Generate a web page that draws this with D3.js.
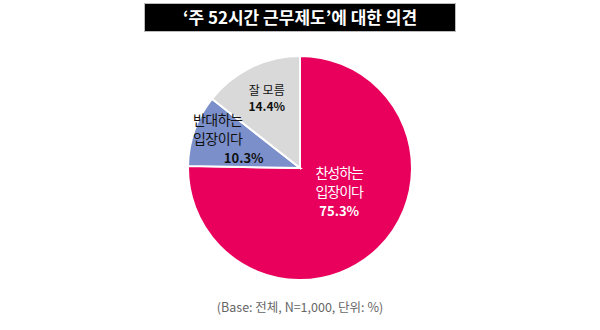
<!DOCTYPE html>
<html>
<head>
<meta charset="utf-8">
<script src="https://cdn.jsdelivr.net/npm/d3@7"></script>
<style>
  body { margin: 0; background: #fff; }
  text { font-family: "Noto Sans CJK KR", "Noto Sans", sans-serif; }
</style>
</head>
<body>
<div id="chart"></div>
<script>
var labels = [["찬성하는", "입장이다"], ["반대하는", "입장이다"], ["잘 모름"]];
var values = [75.3, 10.3, 14.4];
var colors = ["#E8005C", "#7B8FCB", "#D9D9D9"];
var textColors = ["#ffffff", "#111111", "#111111"];

var width = 600, height = 330;
var cx = 300, cy = 168, radius = 112;

var svg = d3.select("#chart")
  .append("svg")
  .attr("width", width)
  .attr("height", height)
  .style("background", "#fff");

// title box
svg.append("rect")
  .attr("x", 144.5)
  .attr("y", 3.5)
  .attr("width", 311)
  .attr("height", 28)
  .style("fill", "#000")
  .style("stroke", "#bbb")
  .style("stroke-width", 1);

svg.append("text")
  .attr("x", 300)
  .attr("y", 23.5)
  .attr("text-anchor", "middle")
  .style("fill", "#fff")
  .style("font-size", "17px")
  .style("font-weight", "bold")
  .text("‘주 52시간 근무제도’에 대한 의견");

var data = values.map(function(v, i) {
  return { label: labels[i], value: v, color: colors[i], tc: textColors[i] };
});

var pie = d3.pie()
  .value(function(d) { return d.value; })
  .sort(null);

var arc = d3.arc().innerRadius(0).outerRadius(radius);

var g = svg.append("g")
  .attr("transform", "translate(" + cx + "," + cy + ")");

var arcs = pie(data);

g.selectAll("path")
  .data(arcs)
  .enter()
  .append("path")
  .attr("d", arc)
  .style("fill", function(d) { return d.data.color; })
  .style("stroke", "#fff")
  .style("stroke-width", 2);

// label layout per slice
var labelR = [0.5, 0.78, 0.72];
var labelShift = [[0, -16], [0, 0], [2, 3]];
var lineGap = [19, 19, 16];
var nameSize = [14, 14, 12];
var pctSize = [13, 13, 12];
var pctDx = [0, 26, 0];
var nameSpacing = [-1, -0.5, 0];

arcs.forEach(function(d, i) {
  var a = (d.startAngle + d.endAngle) / 2;
  var r = radius * labelR[i];
  var x = Math.sin(a) * r + labelShift[i][0];
  var y = -Math.cos(a) * r + labelShift[i][1];
  var lines = d.data.label.concat([d3.format(".1f")(d.data.value) + "%"]);
  var t = g.append("text")
    .attr("text-anchor", "middle")
    .style("fill", d.data.tc);
  lines.forEach(function(l, j) {
    var last = j === lines.length - 1;
    t.append("tspan")
      .attr("x", x + (last ? pctDx[i] : 0))
      .attr("y", y + (j - (lines.length - 1) / 2) * lineGap[i] + 5)
      .style("font-weight", last ? "bold" : "normal")
      .style("font-size", (last ? pctSize[i] : nameSize[i]) + "px")
      .style("letter-spacing", (last ? 0 : nameSpacing[i]) + "px")
      .text(l);
  });
});

svg.append("text")
  .attr("x", 300)
  .attr("y", 312)
  .attr("text-anchor", "middle")
  .style("fill", "#666")
  .style("font-size", "12.5px")
  .text("(Base: 전체, N=1,000, 단위: %)");
</script>
</body>
</html>
